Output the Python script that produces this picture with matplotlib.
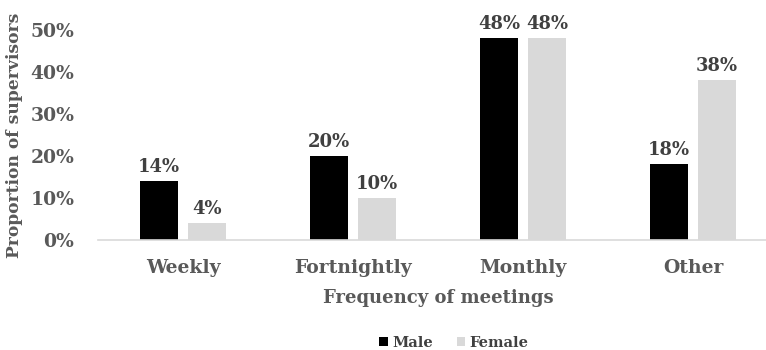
import matplotlib.pyplot as plt
import numpy as np

categories = ['Weekly', 'Fortnightly', 'Monthly', 'Other']
male = [14, 20, 48, 18]
female = [4, 10, 48, 38]
yticks = [0, 10, 20, 30, 40, 50]

plt.rcParams['font.family'] = ['DejaVu Serif']
plt.rcParams['font.weight'] = 'bold'

fig = plt.figure(figsize=(7.66, 3.5), dpi=100)
ax = fig.add_axes([98 / 766, 1 - 240 / 350, 680 / 766, 210 / 350])

x = np.arange(len(categories))
w = 0.2235
off = 0.141
b1 = ax.bar(x - off, male, w, color='#000000', label='Male')
b2 = ax.bar(x + off, female, w, color='#d9d9d9', label='Female')

for bars, vals in [(b1, male), (b2, female)]:
    for b, v in zip(bars, vals):
        ax.text(b.get_x() + b.get_width() / 2, v + 1.2, f'{v}%', ha='center', va='bottom',
                fontsize=13, fontweight='bold', color='#404040', clip_on=False)

ax.set_xlim(-0.5, 3.5)
ax.set_ylim(0, 50)
ax.set_yticks(yticks)
ax.set_yticklabels([f'{t}%' for t in yticks])
ax.set_xticks(x)
ax.set_xticklabels(categories)
ax.tick_params(axis='both', length=0, labelsize=13.5, labelcolor='#595959')
ax.tick_params(axis='x', pad=14)
ax.tick_params(axis='y', pad=17)
for s in ['top', 'right', 'left']:
    ax.spines[s].set_visible(False)
ax.spines['bottom'].set_color('#d9d9d9')
ax.spines['bottom'].set_linewidth(1.2)

ax.set_xlabel('Frequency of meetings', fontsize=13, fontweight='bold', color='#595959', labelpad=8)
ax.set_ylabel('Proportion of supervisors', fontsize=12.3, fontweight='bold', color='#595959', labelpad=5)

fig.legend(handles=[b1, b2], labels=['Male', 'Female'], loc='center', bbox_to_anchor=(454 / 766, 1 - 343 / 350),
           ncol=2, frameon=False, fontsize=10.5, handlelength=0.6, handleheight=0.6,
           columnspacing=1.6, handletextpad=0.3, labelcolor='#404040')

fig.savefig('out.png', dpi=100)
